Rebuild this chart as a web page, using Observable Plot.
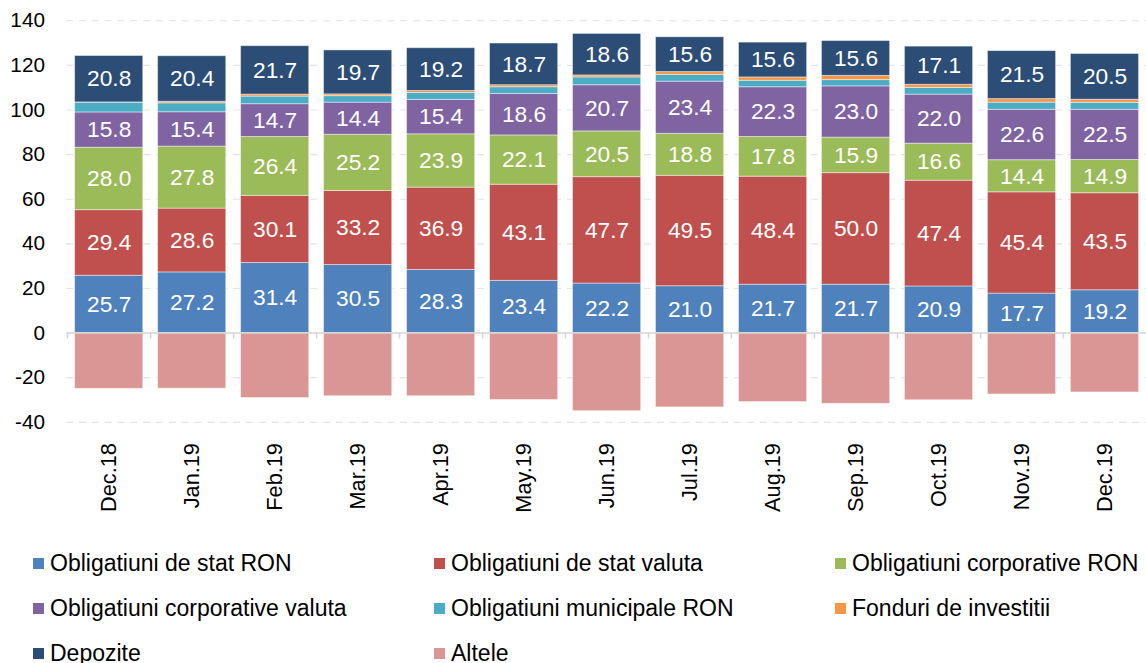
<!DOCTYPE html>
<html>
<head>
<meta charset="utf-8">
<script src="https://cdn.jsdelivr.net/npm/d3@7"></script>
<script src="https://cdn.jsdelivr.net/npm/@observablehq/plot@0.6"></script>
<style>
  html, body { margin: 0; padding: 0; background: #fff; overflow: hidden; }
  body { width: 1146px; height: 663px; position: relative; font-family: "Liberation Sans", Arial, sans-serif; }
  #chart { position: absolute; left: 0; top: 0; }
  #legend { position: absolute; left: 33px; top: 541px; display: grid; grid-template-columns: 401px 401px 401px; grid-auto-rows: 45px; }
  .item { display: flex; align-items: center; font-size: 23px; color: #000; white-space: nowrap; }
  .sw { width: 11px; height: 11px; margin-right: 6px; flex: none; }
</style>
</head>
<body>
<div id="chart"></div>
<div id="legend"></div>
<script>
const months = ["Dec.18","Jan.19","Feb.19","Mar.19","Apr.19","May.19","Jun.19","Jul.19","Aug.19","Sep.19","Oct.19","Nov.19","Dec.19"];
const seriesNames = ["Obligatiuni de stat RON","Obligatiuni de stat valuta","Obligatiuni corporative RON","Obligatiuni corporative valuta","Obligatiuni municipale RON","Fonduri de investitii","Depozite","Altele"];
const seriesColors = ["#4F81BD","#C0504D","#9BBB59","#8064A2","#4BACC6","#F79646","#2C4D75","#D99694"];
const labeledSeries = ["Obligatiuni de stat RON","Obligatiuni de stat valuta","Obligatiuni corporative RON","Obligatiuni corporative valuta","Depozite"];

const statRON     = [25.7,27.2,31.4,30.5,28.3,23.4,22.2,21.0,21.7,21.7,20.9,17.7,19.2];
const statValuta  = [29.4,28.6,30.1,33.2,36.9,43.1,47.7,49.5,48.4,50.0,47.4,45.4,43.5];
const corpRON     = [28.0,27.8,26.4,25.2,23.9,22.1,20.5,18.8,17.8,15.9,16.6,14.4,14.9];
const corpValuta  = [15.8,15.4,14.7,14.4,15.4,18.6,20.7,23.4,22.3,23.0,22.0,22.6,22.5];
const municipale  = [4.4,4.0,3.4,2.9,3.1,3.0,3.5,3.0,2.9,2.8,3.0,3.2,3.1];
const fonduri     = [0.1,0.7,0.9,0.8,0.9,0.9,0.9,1.3,1.5,1.9,1.4,1.6,1.4];
const depozite    = [20.8,20.4,21.7,19.7,19.2,18.7,18.6,15.6,15.6,15.6,17.1,21.5,20.5];
const altele      = [-25.0,-24.9,-29.1,-28.3,-28.3,-30.0,-35.0,-33.3,-30.9,-31.7,-30.1,-27.5,-26.6];

const yTicks = [-40,-20,0,20,40,60,80,100,120,140];
const gridTicks = [-40,-20,20,40,60,80,100,120,140];

const seriesValues = [statRON, statValuta, corpRON, corpValuta, municipale, fonduri, depozite, altele];
const data = [];
months.forEach((m, i) => {
  seriesNames.forEach((s, j) => {
    data.push({month: m, series: s, value: seriesValues[j][i]});
  });
});

const W = 1160, H = 540;
const plot = Plot.plot({
  width: W,
  height: H,
  marginLeft: 67,
  marginRight: 0,
  marginTop: 20.5,
  marginBottom: 113,
  style: {fontFamily: "'Liberation Sans', Arial, sans-serif", color: "#000", background: "transparent", overflow: "visible"},
  x: {domain: months, padding: 0, axis: null, label: null},
  y: {domain: [-40, 140], axis: null, label: null},
  color: {domain: seriesNames, range: seriesColors},
  marks: [
    Plot.ruleY(gridTicks, {stroke: "#e4e4e4", strokeWidth: 1.2, strokeDasharray: "7,6"}),
    Plot.barY(data, Plot.stackY({
      x: "month", y: "value", z: "series", fill: "series", order: seriesNames,
      insetLeft: 7.5, insetRight: 7.5, stroke: "#ffffff", strokeOpacity: 0.45, strokeWidth: 1
    })),
    Plot.text(data, Plot.stackY({
      x: "month", y: "value", z: "series", order: seriesNames,
      text: d => labeledSeries.includes(d.series) ? d.value.toFixed(1) : "",
      fill: "#fff", fontSize: 23
    })),
    Plot.ruleY([0], {stroke: "#d4d4d4", strokeWidth: 1.5}),
    Plot.ruleX(months, {x: d => d, dx: -(W - 67) / 13 / 2, y1: 0, y2: -2.6, stroke: "#d4d4d4", strokeWidth: 1.5}),
    Plot.axisY(yTicks, {tickSize: 0, tickPadding: 22, fontSize: 21, tickFormat: d => String(d), label: null}),
    Plot.axisX({tickSize: 0, tickPadding: 21, tickRotate: -90, fontSize: 22, label: null})
  ]
});
document.getElementById("chart").appendChild(plot);

const legend = document.getElementById("legend");
seriesNames.forEach((name, j) => {
  const it = document.createElement("div");
  it.className = "item";
  const sw = document.createElement("span");
  sw.className = "sw";
  sw.style.background = seriesColors[j];
  const tx = document.createElement("span");
  tx.textContent = name;
  it.appendChild(sw); it.appendChild(tx);
  legend.appendChild(it);
});
</script>
</body>
</html>
